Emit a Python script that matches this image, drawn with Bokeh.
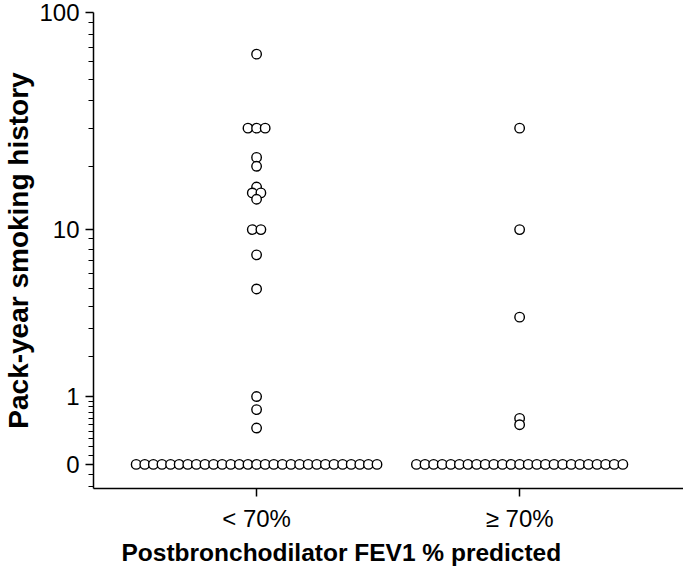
import numpy as np
from bokeh.plotting import figure
from bokeh.models import FixedTicker, Range1d, ColumnDataSource, Title
from bokeh.embed import file_html
from bokeh.resources import INLINE

# ---- data (pack-years) ----
categories = ["< 70%", "\u2265 70%"]
lt70_values = [65, 30, 30, 30, 22, 20, 16, 15, 15, 14, 10, 10, 7.5, 5, 1, 0.75, 0.45,
               0, 0, 0, 0, 0, 0, 0, 0, 0, 0, 0, 0, 0, 0, 0, 0, 0, 0, 0, 0, 0, 0, 0, 0, 0, 0, 0, 0, 0]
ge70_values = [30, 10, 3.5, 0.6, 0.5,
               0, 0, 0, 0, 0, 0, 0, 0, 0, 0, 0, 0, 0, 0, 0, 0, 0, 0, 0, 0, 0, 0, 0, 0, 0]
y_tick_values = [0, 1, 10, 100]
y_minor_values = [-0.2, -0.1, 0.1, 0.2, 0.3, 0.4, 0.5, 0.6, 0.7, 0.8, 0.9,
                  2, 3, 4, 5, 6, 7, 8, 9, 20, 30, 40, 50, 60, 70, 80, 90]
x_title = "Postbronchodilator FEV1 % predicted"
y_title = "Pack-year smoking history"

def tf(v):
    return np.log10(np.asarray(v, dtype=float) + 1.0)

STEP = 0.0327  # horizontal spread for tied values (data units)

def spread(vals, center):
    xs, ys = [], []
    vals = list(vals)
    uniq = []
    for v in vals:
        if v not in uniq:
            uniq.append(v)
    for u in uniq:
        n = vals.count(u)
        for k in range(n):
            xs.append(center + (k - (n - 1) / 2.0) * STEP)
            ys.append(u)
    return xs, list(tf(ys))

x1, y1 = spread(lt70_values, 1)
x2, y2 = spread(ge70_values, 2)

y_lo, y_hi = float(tf(-0.218)), float(tf(100))
p = figure(output_backend="svg", toolbar_location=None,
           frame_width=590, frame_height=476,
           min_border_left=87, min_border_top=12, min_border_right=0, min_border_bottom=0,
           x_range=Range1d(0.380, 2.623),
           y_range=Range1d(y_lo, y_hi))
p.outline_line_color = None
p.xgrid.visible = False
p.ygrid.visible = False
p.background_fill_color = "white"
p.border_fill_color = "white"

src = ColumnDataSource(dict(x=x1 + x2, y=y1 + y2))
p.scatter("x", "y", source=src, marker="circle", size=9.5,
          fill_color="white", line_color="black", line_width=1.4)

font = "Liberation Sans"

# y axis
ya = p.yaxis[0]
ya.ticker = FixedTicker(ticks=list(tf(y_tick_values)), minor_ticks=list(tf(y_minor_values)))
ya.major_label_overrides = {float(t): str(v) for t, v in zip(tf(y_tick_values), y_tick_values)}
ya.axis_label = y_title
ya.axis_label_text_font = font
ya.axis_label_text_font_style = "bold"
ya.axis_label_text_font_size = "28px"
ya.axis_label_text_color = "black"
ya.axis_label_standoff = 2
ya.major_label_text_font = font
ya.major_label_text_font_size = "24px"
ya.major_label_text_color = "black"
ya.major_label_standoff = 6
ya.major_tick_out = 8
ya.major_tick_in = 0
ya.minor_tick_out = 5
ya.minor_tick_in = 0
ya.axis_line_width = 1.5
ya.major_tick_line_width = 1.5
ya.minor_tick_line_width = 1.2
ya.axis_line_color = "black"
ya.major_tick_line_color = "black"
ya.minor_tick_line_color = "black"

# x axis
xa = p.xaxis[0]
xa.ticker = FixedTicker(ticks=[1, 2], minor_ticks=[])
xa.major_label_overrides = {1: categories[0], 2: categories[1]}
xa.major_label_text_font = font
xa.major_label_text_font_size = "24px"
xa.major_label_text_color = "black"
xa.major_label_standoff = 8
xa.major_tick_out = 8
xa.major_tick_in = 0
xa.axis_line_width = 1.5
xa.major_tick_line_width = 1.5
xa.axis_line_color = "black"
xa.major_tick_line_color = "black"

# x-axis title, left-aligned a little right of the frame start (as in the reference)
p.add_layout(Title(text=x_title, align="left", offset=28, standoff=4,
                   text_font=font, text_font_style="bold", text_font_size="24.5px",
                   text_color="black"), "below")

open("out.html", "w").write(file_html(p, INLINE))
